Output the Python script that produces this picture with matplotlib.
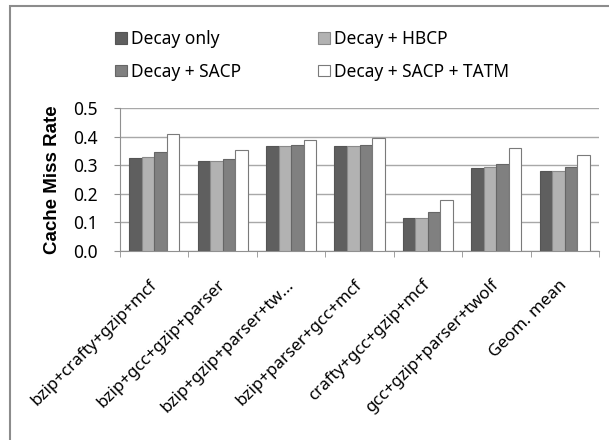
#!/usr/bin/env python3
# -*- coding: utf-8 -*-
import numpy as np
import matplotlib
matplotlib.use('Agg')
import matplotlib.pyplot as plt
from matplotlib.patches import Rectangle

#!----------------------------------------------------------------------
#!	DATA
#!----------------------------------------------------------------------
categories = ['bzip+crafty+gzip+mcf', 'bzip+gcc+gzip+parser', 'bzip+gzip+parser+tw...',
			'bzip+parser+gcc+mcf', 'crafty+gcc+gzip+mcf', 'gcc+gzip+parser+twolf',
			'Geom. mean']
series_names = ['Decay only', 'Decay + HBCP', 'Decay + SACP', 'Decay + SACP + TATM']
decay_only = [0.327, 0.315, 0.369, 0.366, 0.116, 0.290, 0.279]
decay_hbcp = [0.330, 0.315, 0.369, 0.366, 0.116, 0.294, 0.281]
decay_sacp = [0.348, 0.323, 0.372, 0.372, 0.136, 0.305, 0.293]
decay_sacp_tatm = [0.410, 0.354, 0.389, 0.394, 0.178, 0.360, 0.335]
yticks = [0.0, 0.1, 0.2, 0.3, 0.4, 0.5]

def main():
	colors = ['#5f5f5f', '#b2b2b2', '#808080', '#ffffff']
	edges = ['#555555', '#8a8a8a', '#666666', '#7a7a7a']
	values = [decay_only, decay_hbcp, decay_sacp, decay_sacp_tatm]
	fs = 12.5

#!----------------------------------------------------------------------
#!	PLOT
#!----------------------------------------------------------------------
	plt.rcParams['font.family'] = ['Noto Sans', 'DejaVu Sans']
	fig = plt.figure(figsize=(6.09, 4.40), dpi=100)
	ax = fig.add_axes([120/609, 1-250.7/440, 479/609, 142.4/440])

	x = np.arange(len(categories))
	w = 0.183
	bars = []
	for i in range(4):
		b = ax.bar(x + (i-1.5)*w, values[i], w, color=colors[i], edgecolor=edges[i],
				lw=0.8, label=series_names[i], zorder=3)
		bars.append(b)

	ax.set_xlim(-0.5, len(categories)-0.5)
	ax.set_ylim(0, 0.5)
	ax.set_yticks(yticks)
	ax.set_yticklabels(['%.1f' % v for v in yticks], fontsize=fs)
	ax.yaxis.grid(True, color='#a8a8a8', lw=1, zorder=0)
	ax.set_axisbelow(True)

	ax.set_xticks(x)
	ax.set_xticklabels(categories, rotation=45, ha='right', va='center',
				rotation_mode='anchor', fontsize=12.2)
	ax.set_xticks(np.arange(len(categories)+1)-0.5, minor=True)
	ax.tick_params(axis='x', which='major', length=0, pad=23)
	ax.tick_params(axis='x', which='minor', length=4, color='#909090', direction='out')
	ax.tick_params(axis='y', length=4, color='#909090', direction='out', pad=12)

	for s in ['top', 'right']:
		ax.spines[s].set_visible(False)
	for s in ['left', 'bottom']:
		ax.spines[s].set_color('#909090')

	ax.set_ylabel('Cache Miss Rate', fontsize=13.5, fontweight='bold',
				family='Liberation Sans', labelpad=9)

	handles = [bars[0], bars[2], bars[1], bars[3]]
	labels = [series_names[0], series_names[2], series_names[1], series_names[3]]
	fig.legend(handles, labels, ncol=2, loc='upper left', bbox_to_anchor=(115/609, 1-30/440),
			frameon=False, fontsize=fs, handlelength=0.69, handleheight=0.63,
			handletextpad=0.25, columnspacing=4.4, labelspacing=0.85, borderpad=0,
			borderaxespad=0)

	fig.add_artist(Rectangle((10/609, -0.1), 1.0, 1.1-6/440, transform=fig.transFigure,
				fill=False, edgecolor='#8c8c8c', lw=1.5))

	plt.savefig('out.png', dpi=100)

if __name__=="__main__":
	main()
